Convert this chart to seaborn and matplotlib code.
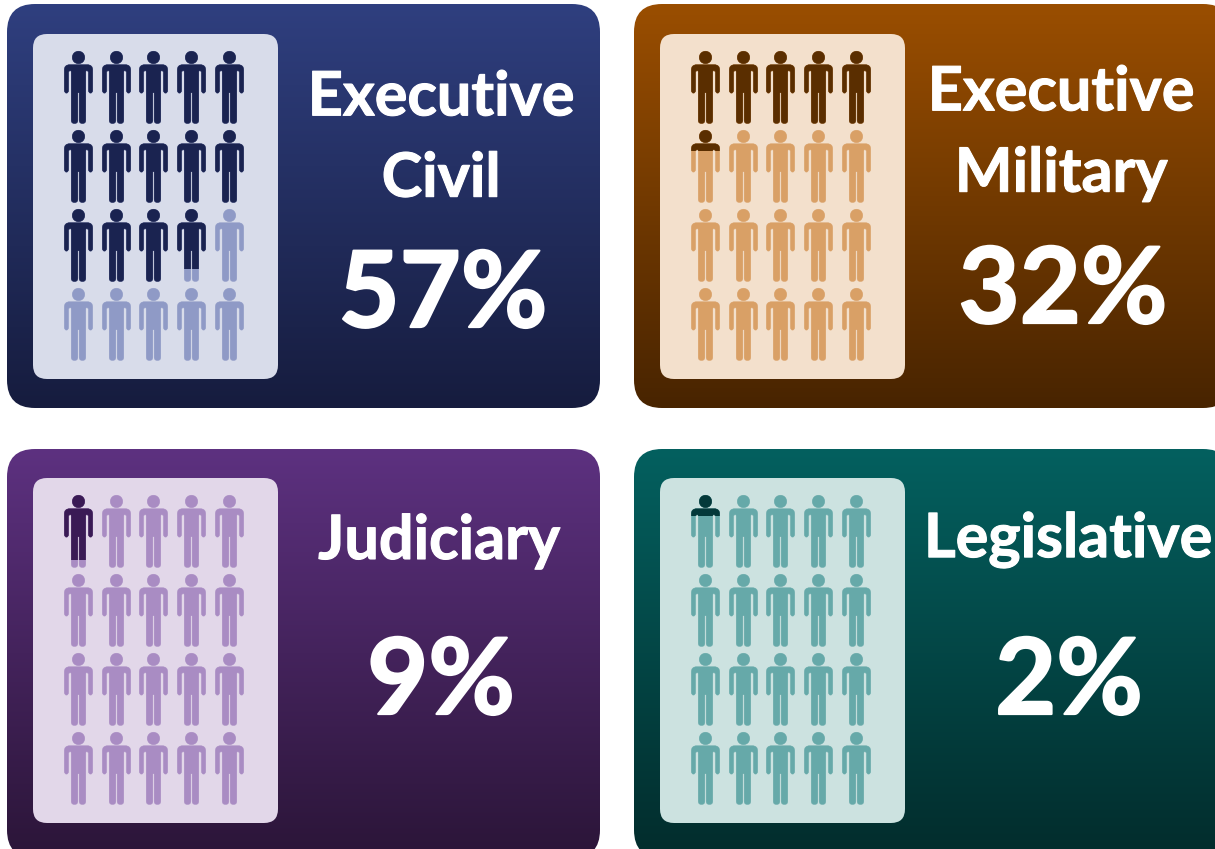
import matplotlib.patheffects as pe
import matplotlib.pyplot as plt
import numpy as np
import pandas as pd
import seaborn as sns
from matplotlib.colors import to_rgb
from matplotlib.patches import FancyBboxPatch, Rectangle
from matplotlib.path import Path

titles = ['Executive\nCivil', 'Executive\nMilitary', 'Judiciary', 'Legislative']
percents = ['57%', '32%', '9%', '2%']
# people drawn dark in each 5 x 4 grid
dark_people = [13.81, 5.28, 0.89, 0.29]

top_colors = ['#2f3f7f', '#9a4e00', '#5d3180', '#04605f']
bottom_colors = ['#161c3e', '#482400', '#2b1538', '#022c2c']
card_colors = ['#d8dcea', '#f3e0cc', '#e2d7e9', '#cce2e0']
dark_colors = ['#1a2350', '#5a2e00', '#3a1a55', '#04393a']
light_colors = ['#8f9ac6', '#d9a066', '#a98cc3', '#66a9a9']

# pixel layout of the four panels
frames = [(7, 4, 593, 404), (634, 4, 597, 404), (7, 449, 593, 409), (634, 449, 597, 409)]
cards = [(33, 34, 245, 345), (660, 34, 245, 345), (33, 478, 245, 345), (660, 478, 245, 345)]
title_pos = [(441, 138), (1061, 133), (439, 541), (1068, 540)]
pct_pos = [(443, 297), (1063, 293), (441, 684), (1069, 684)]
TITLE_SIZE = 44
PCT_SIZE = 76
W, H = 1215, 849
COLS, ROWS = 5, 4


def person_marker():
    # outline of the figure, height 218 units centred on the origin
    def y(v):
        return 169 - v
    head = Path.circle((0, y(78)), 19)
    verts = [(0, y(100)), (27, y(100)), (43, y(100)), (43, y(116)), (43, y(177)), (43, y(186)), (36.5, y(186)),
             (30, y(186)), (30, y(177)), (30, y(122)), (28, y(118)), (25, y(118)), (22, y(118)), (22, y(122)),
             (22, y(268)), (22, y(278)), (12, y(278)), (2, y(278)), (2, y(268)), (2, y(185)),
             (-2, y(185)), (-2, y(268)), (-2, y(278)), (-12, y(278)), (-22, y(278)), (-22, y(268)),
             (-22, y(122)), (-22, y(118)), (-25, y(118)), (-28, y(118)), (-30, y(122)), (-30, y(177)),
             (-30, y(186)), (-36.5, y(186)), (-43, y(186)), (-43, y(177)), (-43, y(116)), (-43, y(100)),
             (-27, y(100)), (0, y(100))]
    L, C = Path.LINETO, Path.CURVE3
    codes = [Path.MOVETO, L, C, C, L, C, C, C, C, L, C, C, C, C,
             L, C, C, C, C, L,
             L, L, C, C, C, C,
             L, C, C, C, C, L,
             C, C, C, C, L, C, C, L]
    return Path.make_compound_path(head, Path(verts, codes))


sns.set_theme(style='white')
plt.rcParams['font.family'] = ['Lato', 'DejaVu Sans']

fig = plt.figure(figsize=(W / 100, H / 100), dpi=100, facecolor='white')
bg = fig.add_axes([0, 0, 1, 1])
bg.set_xlim(0, W)
bg.set_ylim(H, 0)
bg.axis('off')

marker = person_marker()
size = 52.3 ** 2
people = dict(marker=marker, s=size, linewidth=0.3, legend=False)

for i in range(4):
    x, y, w, h = frames[i]
    ramp = np.linspace(0, 1, 256)[:, None, None]
    c0 = np.array(to_rgb(top_colors[i]))
    c1 = np.array(to_rgb(bottom_colors[i]))
    img = bg.imshow(c0 + (c1 - c0) * ramp, extent=(x, x + w, y + h, y), aspect='auto', zorder=1)
    box = FancyBboxPatch((x + 28, y + 28), w - 56, h - 56, boxstyle='round,pad=28,rounding_size=28',
                         fc='none', ec='none', transform=bg.transData)
    bg.add_patch(box)
    img.set_clip_path(box)

    cx, cy, cw, ch = cards[i]
    bg.add_patch(FancyBboxPatch((cx + 14, cy + 14), cw - 28, ch - 28, boxstyle='round,pad=14,rounding_size=14',
                                fc=card_colors[i], ec='none', zorder=2))

    bg.text(title_pos[i][0], title_pos[i][1], titles[i], color='white', fontsize=TITLE_SIZE, fontweight='bold',
            ha='center', va='center', linespacing=1.55, zorder=3,
            path_effects=[pe.withStroke(linewidth=0.8, foreground='white')])
    bg.text(pct_pos[i][0], pct_pos[i][1], percents[i], color='white', fontsize=PCT_SIZE, fontweight='bold',
            ha='center', va='center', zorder=3,
            path_effects=[pe.withStroke(linewidth=1.6, foreground='white')])

    # person grid: one unit per person, 37.8 px across and 79.3 px down
    gx = cx + 44.8 - 18.9
    gy = cy + 52.5 - 39.65
    ax = fig.add_axes([gx / W, 1 - (gy + 79.3 * ROWS) / H, 37.8 * COLS / W, 79.3 * ROWS / H])
    ax.patch.set_alpha(0)
    ax.set_zorder(4)

    grid = pd.DataFrame([(c, r) for r in range(ROWS) for c in range(COLS)], columns=['col', 'row'])
    grid['order'] = range(len(grid))
    whole = int(dark_people[i])
    part = dark_people[i] - whole
    sns.scatterplot(data=grid, x='col', y='row', ax=ax, color=light_colors[i], edgecolor=light_colors[i], **people)
    if whole > 0:
        sns.scatterplot(data=grid[grid['order'] < whole], x='col', y='row', ax=ax, color=dark_colors[i],
                        edgecolor=dark_colors[i], **people)
    last = grid[grid['order'] == whole]
    sns.scatterplot(data=last, x='col', y='row', ax=ax, color=dark_colors[i], edgecolor=dark_colors[i], **people)
    ax.set_xlim(-0.5, COLS - 0.5)
    ax.set_ylim(ROWS - 0.5, -0.5)
    # person is 73 px tall: clip the last one at its filled share
    tall = 73 / 79.3
    clip = Rectangle((last['col'].iloc[0] - 0.5, last['row'].iloc[0] - tall / 2), 1, tall * part,
                     transform=ax.transData, fc='none', ec='none')
    ax.add_patch(clip)
    ax.collections[-1].set_clip_path(clip)
    ax.axis('off')

fig.savefig('out.png', dpi=100)
